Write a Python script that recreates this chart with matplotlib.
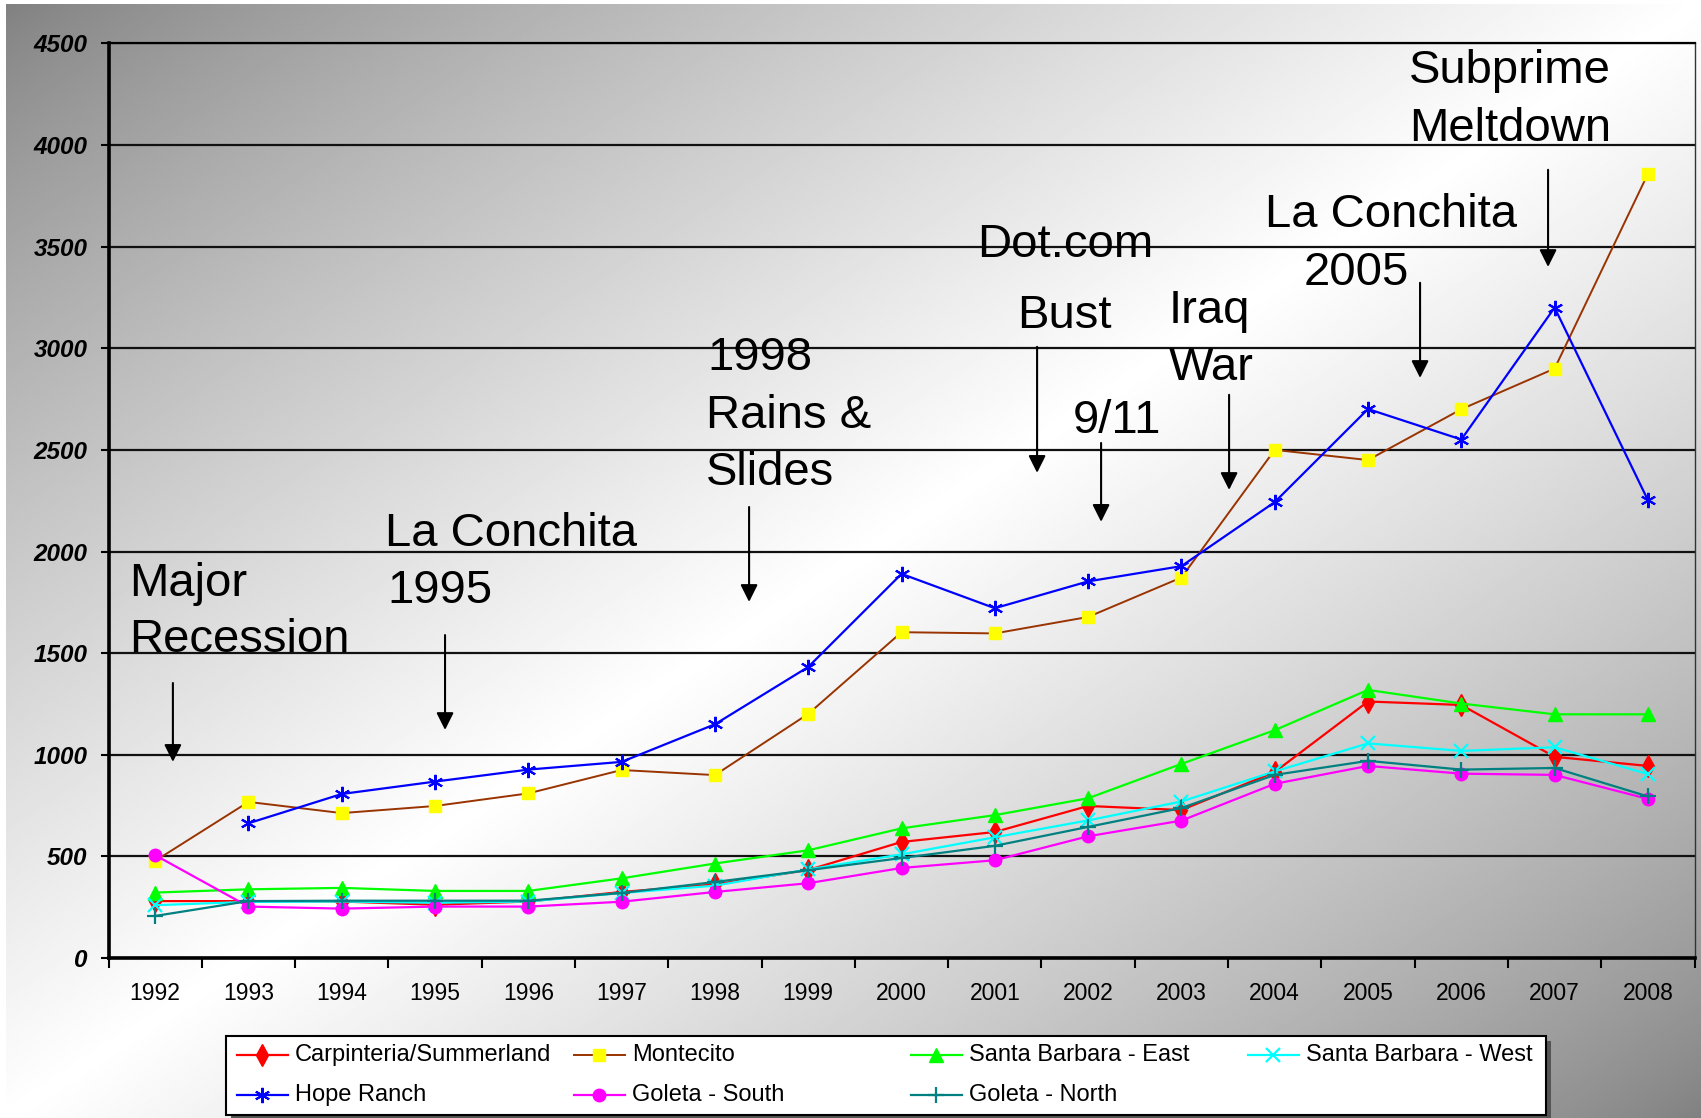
import numpy as np
import matplotlib.pyplot as plt
from matplotlib.lines import Line2D
from matplotlib.patches import Rectangle

plt.rcParams['font.family'] = ['Liberation Sans', 'DejaVu Sans']

# 住宅価格の推移 (地区別)
years = ['1992', '1993', '1994', '1995', '1996', '1997', '1998', '1999', '2000',
         '2001', '2002', '2003', '2004', '2005', '2006', '2007', '2008']
carpinteria = [280, 280, 278, 262, 278, 325, 362, 433, 571, 620, 748, 728, 915, 1262, 1245, 990, 945]
montecito = [478, 768, 713, 748, 810, 925, 900, 1201, 1603, 1597, 1678, 1872, 2500, 2450, 2700, 2900, 3858]
sb_east = [322, 338, 345, 330, 330, 392, 465, 530, 638, 703, 786, 955, 1121, 1319, 1252, 1199, 1199]
sb_west = [260, 276, 278, 272, 278, 320, 356, 436, 510, 594, 677, 770, 918, 1056, 1019, 1037, 905]
hope_ranch = [np.nan, 663, 807, 868, 927, 965, 1150, 1432, 1890, 1721, 1853, 1928, 2243, 2701, 2551, 3200, 2253]
goleta_south = [506, 253, 243, 253, 253, 277, 325, 368, 443, 481, 599, 676, 857, 945, 907, 901, 783]
goleta_north = [207, 280, 282, 282, 282, 320, 374, 432, 492, 552, 645, 738, 901, 970, 927, 935, 795]

# 系列ごとの名前と線・マーカーの設定
series = [
    ('Carpinteria/Summerland', carpinteria, dict(color='#ff0000', marker='d', ms=11, mfc='#ff0000', mec='#ff0000', lw=1.6)),
    ('Montecito', montecito, dict(color='#993300', marker='s', ms=8, mfc='#ffff00', mec='#ffff00', lw=1.4)),
    ('Santa Barbara - East', sb_east, dict(color='#00ff00', marker='^', ms=10, mfc='#00ff00', mec='#00ff00', lw=1.6)),
    ('Santa Barbara - West', sb_west, dict(color='#00ffff', marker='x', ms=10, mew=1.6, lw=1.6)),
    ('Hope Ranch', hope_ranch, dict(color='#0000ff', marker=(6, 2, 0), ms=11, mew=1.5, lw=1.6)),
    ('Goleta - South', goleta_south, dict(color='#ff00ff', marker='o', ms=9, mfc='#ff00ff', mec='#ff00ff', lw=1.6)),
    ('Goleta - North', goleta_north, dict(color='#008080', marker='+', ms=12, mew=1.6, lw=1.6)),
]

# 出来事の注記 (文字列, x, y, 揃え) と矢印 (x, 始点y, 先端y)
notes = [
    ('Major', -0.28, 1781, 'left'), ('Recession', -0.28, 1506, 'left'),
    ('La Conchita', 2.46, 2027, 'left'), ('1995', 2.485, 1747, 'left'),
    ('1998', 5.915, 2894, 'left'), ('Rains &', 5.9, 2608, 'left'), ('Slides', 5.9, 2328, 'left'),
    ('Dot.com', 9.753, 3450, 'center'), ('Bust', 9.742, 3100, 'center'),
    ('9/11', 10.31, 2584, 'center'),
    ('Iraq', 10.868, 3125, 'left'), ('War', 10.868, 2844, 'left'),
    ('La Conchita', 11.897, 3597, 'left'), ('2005', 12.315, 3312, 'left'),
    ('Subprime', 13.44, 4306, 'left'), ('Meltdown', 13.44, 4020, 'left'),
]
arrows = [
    (0.19, 1353, 965), (3.107, 1589, 1122), (6.366, 2219, 1752), (9.453, 3007, 2387),
    (10.139, 2534, 2146), (11.511, 2771, 2303), (13.558, 3322, 2854), (14.93, 3878, 3400),
]

fig = plt.figure(figsize=(17.01, 11.18), dpi=100)

# 背景のグラデーション (左上と右下が灰色、対角線上が白)
h, w = 560, 850
u, v = np.meshgrid(np.linspace(0, 1, w), np.linspace(0, 1, h))
d = np.abs(u + v - 1)
shade = (128 + 127 * (1 - d) ** 0.8) / 255
bg = fig.add_axes([0.0035, 0, 0.9965, 0.9964], zorder=-5)
bg.imshow(shade, cmap='gray', vmin=0, vmax=1, aspect='auto', interpolation='bilinear')
bg.axis('off')

ax = fig.add_axes([0.0638, 0.1431, 0.9324, 0.8181])
ax.patch.set_alpha(0)

x = np.arange(len(years))
for name, vals, style in series:
    ax.plot(x, vals, label=name, clip_on=False, zorder=3, **style)

ax.set_xlim(-0.5, len(years) - 0.5)
ax.set_ylim(0, 4500)
ax.set_yticks(np.arange(0, 4501, 500))
for lbl in ax.get_yticklabels():
    lbl.set_fontweight('bold')
    lbl.set_fontstyle('italic')
    lbl.set_fontsize(17.5)

ax.set_xticks(np.arange(-0.5, len(years)))
ax.set_xticks(x, minor=True)
ax.set_xticklabels(years, minor=True, fontsize=16.5)
ax.tick_params(axis='x', which='major', length=7, width=1.5, direction='out', labelbottom=False)
ax.tick_params(axis='x', which='minor', length=0, pad=17)
ax.tick_params(axis='y', length=6, width=1.5, direction='out', pad=9)

ax.set_axisbelow(True)
ax.grid(axis='y', color='#111111', lw=1.6)
ax.grid(axis='x', visible=False)
for side in ['left', 'bottom']:
    ax.spines[side].set_linewidth(2.6)
ax.spines['top'].set_linewidth(1.6)
ax.spines['right'].set_linewidth(1.0)
ax.spines['right'].set_color('#333333')

for text, tx, ty, ha in notes:
    ax.text(tx, ty, text, ha=ha, va='baseline', fontsize=34, color='black')
for ax_x, y0, y1 in arrows:
    ax.annotate('', xy=(ax_x, y1), xytext=(ax_x, y0),
                arrowprops=dict(arrowstyle='-|>', mutation_scale=26, lw=1.5,
                                color='black', shrinkA=0, shrinkB=0))

# 凡例 (4列、等間隔に並べる)
lax = fig.add_axes([0.1329, 0.0027, 0.776, 0.0707])
lax.set_xlim(0, 1)
lax.set_ylim(0, 1)
lax.axis('off')
lax.add_patch(Rectangle((0.004, -0.06), 1, 1, transform=lax.transAxes,
                        facecolor='#555555', edgecolor='none', clip_on=False))
lax.add_patch(Rectangle((0, 0), 1, 1, transform=lax.transAxes,
                        facecolor='white', edgecolor='black', lw=1.5, clip_on=False))
col_x = [0.008, 0.2633, 0.5186, 0.7739]
row_y = [0.753, 0.258]
for i, (name, vals, style) in enumerate(series):
    cx = col_x[i % 4]
    cy = row_y[i // 4]
    line_style = {k: val for k, val in style.items() if k in ('color', 'lw')}
    mark_style = {k: val for k, val in style.items() if k != 'lw'}
    lax.add_line(Line2D([cx, cx + 0.039], [cy, cy], **line_style))
    lax.add_line(Line2D([cx + 0.0195], [cy], linestyle='none', **mark_style))
    lax.text(cx + 0.0443, cy, name, va='center', ha='left', fontsize=17)

fig.savefig('out.png', dpi=100)
